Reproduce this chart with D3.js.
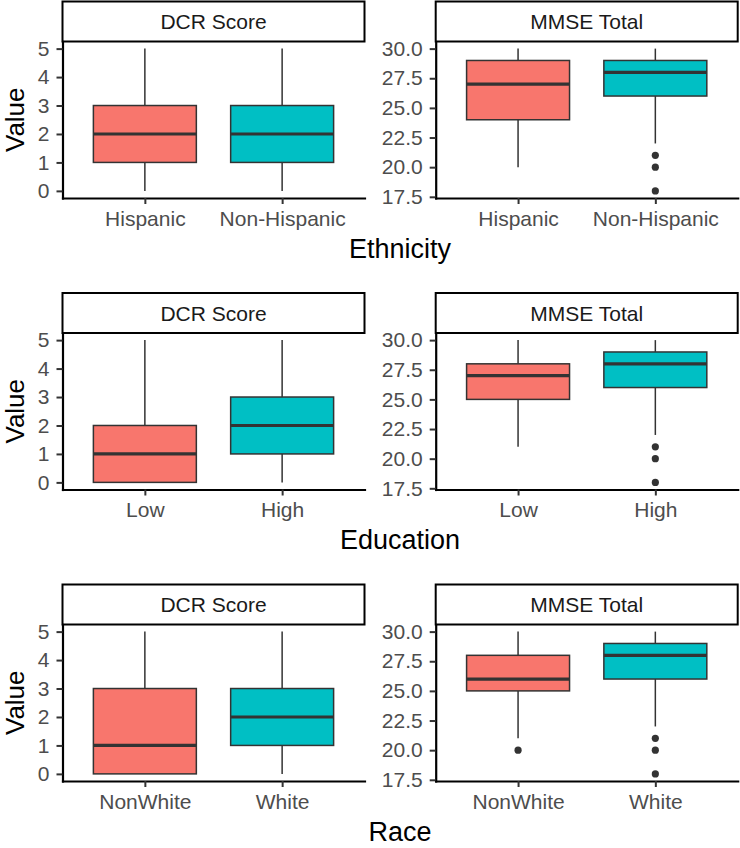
<!DOCTYPE html>
<html>
<head>
<meta charset="utf-8">
<script src="https://cdn.jsdelivr.net/npm/d3@7"></script>
<style>
  body { margin: 0; background: #fff; }
  text { font-family: "Liberation Sans", Arial, Helvetica, sans-serif; }
</style>
</head>
<body>
<div id="chart"></div>
<script>
// grouping variables (one row each) and their categories
const groupings = ["Ethnicity", "Education", "Race"];
const ethnicityLevels = ["Hispanic", "Non-Hispanic"];
const educationLevels = ["Low", "High"];
const raceLevels = ["NonWhite", "White"];

// facet labels
const measures = ["DCR Score", "MMSE Total"];

// box stats: [lower whisker, q1, median, q3, upper whisker]
const ethnicityDCR = [[0, 1, 2, 3, 5], [0, 1, 2, 3, 5]];
const ethnicityMMSE = [[20, 24, 27, 29, 30], [22, 26, 28, 29, 30]];
const educationDCR = [[0, 0, 1, 2, 5], [0, 1, 2, 3, 5]];
const educationMMSE = [[21, 25, 27, 28, 30], [22, 26, 28, 29, 30]];
const raceDCR = [[0, 0, 1, 3, 5], [0, 1, 2, 3, 5]];
const raceMMSE = [[21, 25, 26, 28, 30], [22, 26, 28, 29, 30]];

// outliers per box
const ethnicityDCROut = [[], []];
const ethnicityMMSEOut = [[], [21, 20, 18]];
const educationDCROut = [[], []];
const educationMMSEOut = [[], [21, 20, 18]];
const raceDCROut = [[], []];
const raceMMSEOut = [[20], [21, 20, 18]];

// tick labels
const dcrTicks = [0, 1, 2, 3, 4, 5];
const mmseTicks = [17.5, 20, 22.5, 25, 27.5, 30];

const fills = ["#F8766D", "#00BFC4"];

// rows built from the arrays above
const rows = [
    {title: groupings[0], levels: ethnicityLevels, stats: [ethnicityDCR, ethnicityMMSE], out: [ethnicityDCROut, ethnicityMMSEOut]},
    {title: groupings[1], levels: educationLevels, stats: [educationDCR, educationMMSE], out: [educationDCROut, educationMMSEOut]},
    {title: groupings[2], levels: raceLevels, stats: [raceDCR, raceMMSE], out: [raceDCROut, raceMMSEOut]}
];
const tickSets = [dcrTicks, mmseTicks];
const tickFormats = [d3.format("d"), d3.format(".1f")];

// page setup
const width = 740;
const height = 848;
const rowTop = [1.5, 293, 584.5];
const stripH = 40;
const panelH = 156.5;
const panelX = [62.5, 435.7];
const panelW = 302;
const boxW = 0.75;
const tickFont = 21;

const svg = d3.select("#chart")
    .append("svg")
    .attr("width", width)
    .attr("height", height);

rows.forEach((row, r) => {
    measures.forEach((measure, m) => {
        const g = svg.append("g")
            .attr("transform", `translate(${panelX[m]},${rowTop[r]})`);

        const stats = row.stats[m];
        const outs = row.out[m];

        // y range from the data, expanded 5% like ggplot
        const allVals = stats.flat().concat(outs.flat());
        const [lo, hi] = d3.extent(allVals);
        const pad = (hi - lo) * 0.05;
        const y = d3.scaleLinear()
            .domain([lo - pad, hi + pad])
            .range([stripH + panelH, stripH]);

        const x = d3.scaleLinear()
            .domain([0.4, 2.6])
            .range([0, panelW]);

        // strip
        g.append("rect")
            .attr("x", 0)
            .attr("y", 0)
            .attr("width", panelW)
            .attr("height", stripH)
            .attr("fill", "white")
            .attr("stroke", "black")
            .attr("stroke-width", 2);

        g.append("text")
            .attr("x", panelW / 2)
            .attr("y", stripH / 2 + 7.5)
            .attr("text-anchor", "middle")
            .attr("font-size", tickFont + "px")
            .attr("fill", "#1A1A1A")
            .text(measure);

        // boxes
        const box = g.selectAll(".box")
            .data(stats)
            .enter()
            .append("g")
            .attr("class", "box");

        // whiskers
        box.append("line")
            .attr("x1", (d, i) => x(i + 1))
            .attr("x2", (d, i) => x(i + 1))
            .attr("y1", d => y(d[0]))
            .attr("y2", d => y(d[1]))
            .attr("stroke", "#333333")
            .attr("stroke-width", 1.5);

        box.append("line")
            .attr("x1", (d, i) => x(i + 1))
            .attr("x2", (d, i) => x(i + 1))
            .attr("y1", d => y(d[3]))
            .attr("y2", d => y(d[4]))
            .attr("stroke", "#333333")
            .attr("stroke-width", 1.5);

        box.append("rect")
            .attr("x", (d, i) => x(i + 1 - boxW / 2))
            .attr("width", x(boxW) - x(0))
            .attr("y", d => y(d[3]))
            .attr("height", d => y(d[1]) - y(d[3]))
            .attr("fill", (d, i) => fills[i])
            .attr("stroke", "#333333")
            .attr("stroke-width", 1.5);

        // median
        box.append("line")
            .attr("x1", (d, i) => x(i + 1 - boxW / 2))
            .attr("x2", (d, i) => x(i + 1 + boxW / 2))
            .attr("y1", d => y(d[2]))
            .attr("y2", d => y(d[2]))
            .attr("stroke", "#333333")
            .attr("stroke-width", 3.2);

        // outliers
        outs.forEach((pts, i) => {
            g.selectAll(null)
                .data(pts)
                .enter()
                .append("circle")
                .attr("cx", x(i + 1))
                .attr("cy", d => y(d))
                .attr("r", 3.6)
                .attr("fill", "#333333");
        });

        // y axis
        const yAxis = g.append("g")
            .call(d3.axisLeft(y)
                .tickValues(tickSets[m])
                .tickFormat(tickFormats[m])
                .tickSize(6)
                .tickSizeOuter(0)
                .tickPadding(7));

        // x axis
        const xAxis = g.append("g")
            .attr("transform", `translate(0,${stripH + panelH})`)
            .call(d3.axisBottom(x)
                .tickValues([1, 2])
                .tickFormat(d => row.levels[d - 1])
                .tickSize(6)
                .tickSizeOuter(0)
                .tickPadding(7));

        [yAxis, xAxis].forEach(ax => {
            ax.select(".domain")
                .attr("stroke", "black")
                .attr("stroke-width", 2.2)
                .attr("stroke-linecap", "square");
            ax.selectAll(".tick line")
                .attr("stroke", "#333333")
                .attr("stroke-width", 2);
            ax.selectAll(".tick text")
                .attr("fill", "#4D4D4D")
                .attr("font-size", tickFont + "px")
                .attr("font-family", "'Liberation Sans', Arial, sans-serif");
        });
    });

    // y-axis title
    svg.append("text")
        .attr("transform", `translate(24,${rowTop[r] + stripH + panelH / 2}) rotate(-90)`)
        .attr("text-anchor", "middle")
        .attr("font-size", "26px")
        .attr("fill", "black")
        .text("Value");

    // x-axis title
    svg.append("text")
        .attr("x", (panelX[0] + panelX[1] + panelW) / 2)
        .attr("y", rowTop[r] + stripH + panelH + 59.5)
        .attr("text-anchor", "middle")
        .attr("font-size", "27px")
        .attr("fill", "black")
        .text(row.title);
});
</script>
</body>
</html>
